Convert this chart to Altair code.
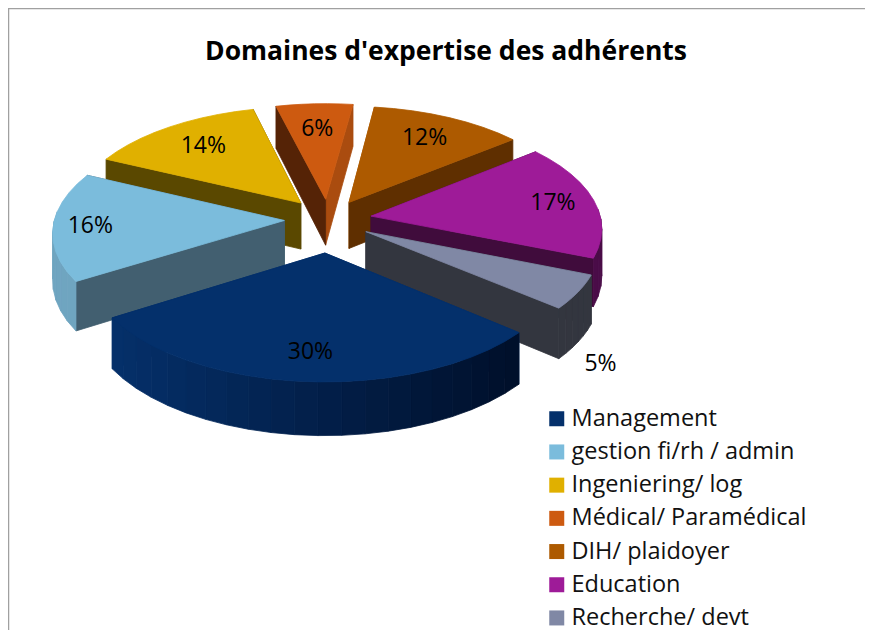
import math
import altair as alt

categories = ["Management", "gestion fi/rh / admin", "Ingeniering/ log", "Médical/ Paramédical",
              "DIH/ plaidoyer", "Education", "Recherche/ devt"]
values = [30, 16, 14, 6, 12, 17, 5]
top_colors = ["#04306b", "#7bbcdc", "#e0b000", "#cd5a10", "#ad5a00", "#9e1b98", "#8088a5"]
start_wall = ["#04306b", "#425f70", "#5a4800", "#552306", "#ad5a00", "#400c3c", "#33363f"]
end_wall = ["#04306b", "#425f70", "#5a4800", "#aa4c0f", "#5f2f00", "#400c3c", "#33363f"]
outer_wall = [("#05306a", "#000f2a"), ("#6fa5c0", "#6fa5c0"), ("#5a4800", "#5a4800"), ("#552306", "#552306"),
              ("#5f2f00", "#5f2f00"), ("#4a0c48", "#4a0c48"), ("#33363f", "#33363f")]
draw_order = [3, 2, 4, 1, 5, 6, 0]
label_radius = [0.79, 0.84, 0.73, 0.72, 0.74, 0.815, 1.10]
label_drop = [0, 0, 0, 0, 0, 0, 65]
lift = [1, -6, -2, 0, 0, -5, -7]

CX, CY, RX, RY, K = 328, 226, 231, 110, 0.10
EX, EY, DEPTH, START = 0.19, 0.24, 47, 130
OX, OY = 8, 9


def hexmix(a, b, t):
    ca = [int(a[i:i + 2], 16) for i in (1, 3, 5)]
    cb = [int(b[i:i + 2], 16) for i in (1, 3, 5)]
    return "#%02x%02x%02x" % tuple(round(x + (y - x) * t) for x, y in zip(ca, cb))


def project(ux, uy, z=0.0):
    p = 1 / (1 - K * uy)
    return (CX + RX * ux * p - OX, CY + RY * uy * p + z * DEPTH * p - OY)


def unit(theta, r, off):
    t = math.radians(theta)
    return (off[0] + r * math.sin(t), off[1] - r * math.cos(t))


def poly(points, fill, name):
    ring = [list(pt) for pt in points] + [list(points[0])]
    return {"type": "Feature", "properties": {"fill": fill, "cat": name},
            "geometry": {"type": "Polygon", "coordinates": [ring]}}


features, label_x, label_y = [], [None] * 7, [None] * 7
bounds, acc = [], 0
for v in values:
    bounds.append((START + 3.6 * acc, START + 3.6 * (acc + v)))
    acc += v

for i in draw_order:
    a0, a1 = bounds[i]
    mid = math.radians((a0 + a1) / 2)
    off = (EX * math.sin(mid), -EY * math.cos(mid) + lift[i] / RY)
    n = max(6, int((a1 - a0) / 5))
    angles = [a0 + (a1 - a0) * k / n for k in range(n + 1)]
    rim = [unit(a, 1, off) for a in angles]
    name = categories[i]
    faces = []
    for (edge, col) in ((rim[0], start_wall[i]), (rim[-1], end_wall[i])):
        pts = [project(*off), project(*edge), project(*edge, 1), project(*off, 1)]
        faces.append((sum(q[1] for q in pts), poly(pts, col, name)))
    for _, f in sorted(faces, key=lambda s: s[0]):
        features.append(f)
    xs = [project(*u)[0] for u in rim]
    xmin, xmax = min(xs), max(xs)
    for k in range(n):
        if math.cos(math.radians((angles[k] + angles[k + 1]) / 2)) > 0.1:
            continue
        pts = [project(*rim[k]), project(*rim[k + 1]), project(*rim[k + 1], 1), project(*rim[k], 1)]
        tx = ((pts[0][0] + pts[1][0]) / 2 - xmin) / (xmax - xmin)
        features.append(poly(pts, hexmix(*outer_wall[i], tx), name))
    features.append(poly([project(*off)] + [project(*u) for u in rim], top_colors[i], name))
    lx, ly = project(*unit((a0 + a1) / 2, label_radius[i], off))
    label_x[i], label_y[i] = lx, ly + label_drop[i]

view = alt.Chart(alt.Data(values=features)).mark_geoshape(strokeWidth=0.8).encode(
    color=alt.Color("properties.fill:N", scale=None),
    stroke=alt.Stroke("properties.fill:N", scale=None),
).project(type="identity", scale=1, translate=[0, 0])

labels = alt.Chart(alt.Data(values=[
    {"x": label_x[i], "y": label_y[i], "t": f"{values[i]}%"} for i in range(7)
])).mark_text(font="Open Sans", fontSize=23, color="#000000").encode(
    x=alt.X("x:Q", scale=None, axis=None),
    y=alt.Y("y:Q", scale=None, axis=None),
    text="t:N",
)

title = alt.Chart(alt.Data(values=[{"x": 438, "y": 44, "t": "Domaines d'expertise des adhérents"}])).mark_text(
    font="Open Sans", fontSize=26.5, fontWeight="bold", color="#000000").encode(
    x=alt.X("x:Q", scale=None, axis=None),
    y=alt.Y("y:Q", scale=None, axis=None),
    text="t:N",
)

frame = alt.Chart(alt.Data(values=[{"a": 0}])).mark_rule(color="#a0a0a0", strokeWidth=1.5).encode(
    x=alt.value(0.5), y=alt.value(0), y2=alt.value(622))
frame_top = alt.Chart(alt.Data(values=[{"a": 0}])).mark_rule(color="#a0a0a0", strokeWidth=1.5).encode(
    y=alt.value(0.5), x=alt.value(0), x2=alt.value(857))

legend_layer = alt.Chart(alt.Data(values=[{"cat": c} for c in categories])).mark_square(opacity=1).encode(
    x=alt.value(-60), y=alt.value(-60),
    fill=alt.Fill("cat:N", sort=None, scale=alt.Scale(domain=categories, range=top_colors),
                  legend=alt.Legend(title=None, orient="none", legendX=537, legendY=399,
                                    symbolType="square", symbolSize=225, symbolStrokeWidth=0,
                                    symbolOpacity=1,
                                    labelFont="Open Sans", labelFontSize=23.5, labelColor="#111111",
                                    rowPadding=8.2, labelOffset=3, labelLimit=300)),
)

chart = alt.layer(frame, frame_top, view, labels, title, legend_layer).resolve_scale(
    color="independent", stroke="independent", fill="independent").properties(
    width=857, height=622, padding=0,
    autosize=alt.AutoSizeParams(type="none"),
    background="white",
).configure_view(stroke=None)

chart.save("out.html", embed_options={"renderer": "svg", "actions": False})
